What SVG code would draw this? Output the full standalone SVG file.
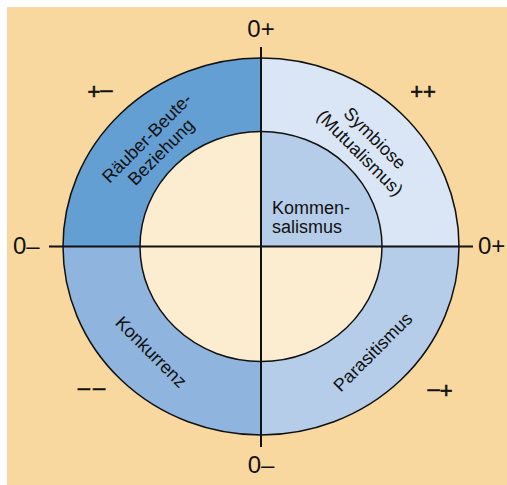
<svg xmlns="http://www.w3.org/2000/svg" width="507" height="485" viewBox="0 0 507 485">
<style>
  text { font-family: "Liberation Sans", Arial, sans-serif; fill: #111; }
  .lbl { font-size: 18px; }
  .ax { font-size: 24px; }
  .sg { font-size: 22px; stroke: #111; stroke-width: 0.6; }
  .ring { stroke: #111; stroke-width: 1.5; fill: none; }
  .axis { stroke: #111; stroke-width: 2; }
</style>
<rect x="0" y="0" width="507" height="485" fill="#ffffff"/>
<rect x="7" y="7" width="500" height="478" fill="#f8d89e"/>

<g id="raeuber-beute">
  <path d="M261,246.5 L63,246.5 A198,188.5 0 0 1 261,58 Z" fill="#649fd4"/>
  <g transform="translate(154,145) rotate(-45)">
    <text class="lbl" x="0" y="-4" text-anchor="middle">Räuber-Beute-</text>
    <text class="lbl" x="0" y="16" text-anchor="middle">Beziehung</text>
  </g>
</g>
<g id="symbiose">
  <path d="M261,246.5 L261,58 A198,188.5 0 0 1 459,246.5 Z" fill="#dae6f6"/>
  <g transform="translate(367,146) rotate(45)">
    <text class="lbl" x="0" y="-5" text-anchor="middle">Symbiose</text>
    <text class="lbl" x="0" y="16" text-anchor="middle">(Mutualismus)</text>
  </g>
</g>
<g id="parasitismus">
  <path d="M261,246.5 L459,246.5 A198,188.5 0 0 1 261,435 Z" fill="#b5cde9"/>
  <text class="lbl" transform="translate(373,352) rotate(-45)" x="0" y="6" text-anchor="middle">Parasitismus</text>
</g>
<g id="konkurrenz">
  <path d="M261,246.5 L261,435 A198,188.5 0 0 1 63,246.5 Z" fill="#8fb4de"/>
  <text class="lbl" transform="translate(151,352) rotate(45)" x="0" y="6" text-anchor="middle">Konkurrenz</text>
</g>
<g id="inner">
  <ellipse cx="261" cy="246.5" rx="121" ry="115" fill="#fdedd0"/>
</g>
<g id="kommensalismus">
  <path d="M261,246.5 L261,131.5 A121,115 0 0 1 382,246.5 Z" fill="#b5cde9"/>
  <text class="lbl" x="272" y="214">Kommen-</text>
  <text class="lbl" x="272" y="233">salismus</text>
</g>

<g id="connectors">
  <ellipse class="ring" cx="261" cy="246.5" rx="198" ry="188.5"/>
  <ellipse class="ring" cx="261" cy="246.5" rx="121" ry="115"/>
  <line class="axis" x1="261" y1="47" x2="261" y2="447"/>
  <line class="axis" x1="49" y1="246.5" x2="473" y2="246.5"/>
</g>

<g id="axis-labels">
  <text class="ax" x="261" y="37" text-anchor="middle">0+</text>
  <text class="ax" x="261" y="473" text-anchor="middle">0–</text>
  <text class="ax" x="13" y="254">0–</text>
  <text class="ax" x="478" y="254">0+</text>
</g>
<g id="sign-labels">
  <text class="sg" x="100" y="98.5" text-anchor="middle"><tspan>+</tspan><tspan dy="-2">–</tspan></text>
  <text class="sg" x="423" y="98.5" text-anchor="middle">++</text>
  <text class="sg" x="93" y="395" text-anchor="middle" letter-spacing="3">––</text>
  <text class="sg" x="440" y="398" text-anchor="middle"><tspan dy="-2">–</tspan><tspan dy="2">+</tspan></text>
</g>
</svg>
